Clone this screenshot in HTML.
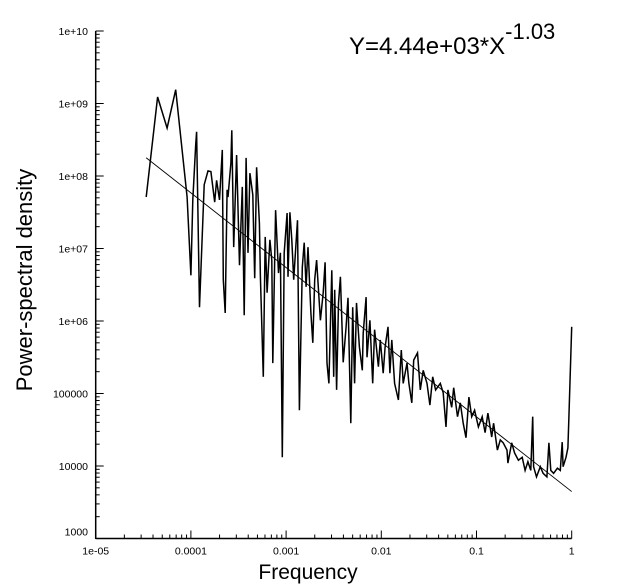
<!DOCTYPE html>
<html><head><meta charset="utf-8"><style>
html,body{margin:0;padding:0;background:#fff;}
svg{display:block;font-family:"Liberation Sans",Arial,sans-serif;}
</style></head><body>
<svg id="chart" width="619" height="585" viewBox="0 0 619 585" xmlns="http://www.w3.org/2000/svg">
<g id="axes"></g>
<g id="series"></g>
<text x="349" y="54" font-size="24">Y=4.44e+03*X<tspan dy="-15" font-size="22">-1.03</tspan></text>
<text x="0" y="0" font-size="22" text-anchor="middle" transform="translate(32,280) rotate(-90)">Power-spectral density</text>
<text x="308" y="579" font-size="21" text-anchor="middle">Frequency</text>
</svg>
<script>
const xDecades = [-5,-4,-3,-2,-1,0];
const xTickLabels = ["1e-05","0.0001","0.001","0.01","0.1","1"];
const yDecades = [3,4,5,6,7,8,9,10];
const yTickLabels = ["1000","10000","100000","1e+06","1e+07","1e+08","1e+09","1e+10"];
const fitCoef = 4440;
const fitExp = -1.03;
const fitRange = [-4.47, 0];
const logFreq = [-4.47,-4.35,-4.25,-4.16,-4.04,-4.00,-3.98,-3.95,-3.94,-3.91,-3.86,-3.82,-3.79,-3.75,-3.73,-3.70,-3.67,-3.66,-3.64,-3.62,-3.61,-3.58,-3.57,-3.55,-3.52,-3.49,-3.46,-3.44,-3.42,-3.40,-3.38,-3.35,-3.33,-3.31,-3.28,-3.27,-3.24,-3.22,-3.20,-3.17,-3.15,-3.14,-3.11,-3.08,-3.06,-3.04,-3.02,-2.99,-2.98,-2.96,-2.94,-2.92,-2.88,-2.86,-2.83,-2.81,-2.79,-2.77,-2.74,-2.72,-2.70,-2.68,-2.64,-2.61,-2.59,-2.57,-2.55,
-2.52,-2.50,-2.49,-2.47,-2.45,-2.43,-2.40,-2.37,-2.35,-2.32,-2.30,-2.28,-2.26,-2.23,-2.20,-2.19,-2.16,-2.15,-2.12,-2.09,-2.07,-2.03,-2.01,-1.98,-1.96,-1.93,-1.91,-1.89,-1.86,-1.82,-1.79,-1.77,-1.73,-1.71,-1.68,-1.66,-1.62,-1.59,-1.56,-1.52,-1.49,-1.46,-1.43,-1.38,-1.35,-1.32,-1.30,-1.26,-1.24,-1.20,-1.17,-1.14,-1.11,-1.08,-1.05,-1.02,-0.98,-0.94,-0.91,-0.88,-0.84,-0.82,-0.78,-0.75,-0.72,-0.68,-0.67,-0.63,-0.60,-0.56,-0.52,-0.49,-0.46,-0.43,-0.41,-0.40,-0.37,-0.33,-0.30,-0.26,-0.24,-0.22,-0.19,-0.15,-0.12,-0.10,-0.09,-0.06,-0.04,-0.03,0.00];
const logPsd = [7.71,9.09,8.66,9.19,7.71,6.63,7.67,8.43,8.61,6.19,7.88,8.07,8.06,7.64,7.94,7.67,8.36,6.57,6.11,7.81,7.71,8.18,8.63,7.02,8.29,6.77,7.85,6.08,8.25,6.94,8.04,7.74,6.59,8.12,7.35,6.61,5.23,7.16,6.39,7.12,6.84,5.42,7.53,6.66,6.94,4.12,6.94,7.49,6.61,7.50,7.12,6.57,7.39,4.77,6.74,7.08,6.47,7.02,6.11,5.70,6.57,6.84,6.01,6.39,6.81,5.42,5.14,
6.70,5.23,6.43,5.05,6.25,6.61,5.43,5.92,6.32,4.59,6.19,5.14,6.25,5.64,5.32,5.83,6.33,5.50,6.01,5.14,5.88,5.37,5.74,5.28,5.64,5.92,5.28,5.74,5.14,4.91,5.60,5.14,5.42,5.14,4.87,5.46,5.56,5.05,5.32,5.14,4.84,5.23,5.05,5.14,5.01,4.54,5.05,4.81,5.08,4.68,4.87,4.59,4.39,4.95,4.68,4.77,4.54,4.68,4.46,4.73,4.40,4.59,4.22,4.36,4.32,4.22,4.04,4.32,4.18,4.08,4.12,3.94,4.06,3.94,4.68,3.99,3.85,3.99,3.90,3.85,4.32,3.94,3.90,3.97,3.94,4.33,3.99,4.12,4.25,4.63,5.92];

const X0=95.7, XD=95.2, Y0=538.5, YD=72.5;
function xs(lf){return X0+(lf+5)*XD;}
function ys(lp){return Y0-(lp-3)*YD;}
const NS="http://www.w3.org/2000/svg";
function mk(tag,attrs,parent){const e=document.createElementNS(NS,tag);for(const k in attrs)e.setAttribute(k,attrs[k]);parent.appendChild(e);return e;}
const axes=document.getElementById('axes');
const series=document.getElementById('series');
let a=mk('line',{x1:X0,y1:ys(10),x2:X0,y2:Y0+0.5,stroke:'#000','stroke-width':1.5},axes);


a=mk('line',{x1:X0,y1:Y0,x2:xs(0),y2:Y0,stroke:'#000','stroke-width':1.5},axes);


yDecades.forEach((d,i)=>{
  const y=ys(d);
  const t=mk('line',{x1:X0,y1:y,x2:X0+8,y2:y,stroke:'#000','stroke-width':1},axes);
  
  
  const l=mk('text',{x:88,y:(i===0?y-3:y+4),'font-size':10.5,'text-anchor':'end'},axes);
  l.textContent=yTickLabels[i];
  
  
  if(i<yDecades.length-1){for(let m=2;m<10;m++){const yy=ys(d+Math.log10(m));
    const mt=mk('line',{x1:X0,y1:yy,x2:X0+4,y2:yy,stroke:'#000','stroke-width':1},axes);
    
    }}
});
xDecades.forEach((d,i)=>{
  const x=xs(d);
  const t=mk('line',{x1:x,y1:Y0,x2:x,y2:Y0-8,stroke:'#000','stroke-width':1},axes);
  
  
  const l=mk('text',{x:x,y:Y0+16,'font-size':10.5,'text-anchor':'middle'},axes);
  l.textContent=xTickLabels[i];
  
  
  if(i<xDecades.length-1){for(let m=2;m<10;m++){const xx=xs(d+Math.log10(m));
    const mt=mk('line',{x1:xx,y1:Y0,x2:xx,y2:Y0-4,stroke:'#000','stroke-width':1},axes);
    
    }}
});
let pts=logFreq.map((f,i)=>xs(f).toFixed(1)+','+ys(logPsd[i]).toFixed(1)).join(' ');
const pl=mk('polyline',{points:pts,fill:'none',stroke:'#000','stroke-width':1.5,'stroke-linejoin':'miter'},series);


const fy=lf=>Math.log10(fitCoef)+fitExp*lf;
const fl=mk('line',{x1:xs(fitRange[0]),y1:ys(fy(fitRange[0])),x2:xs(fitRange[1]),y2:ys(fy(fitRange[1])),stroke:'#000','stroke-width':0.9},series);


</script>
</body></html>
